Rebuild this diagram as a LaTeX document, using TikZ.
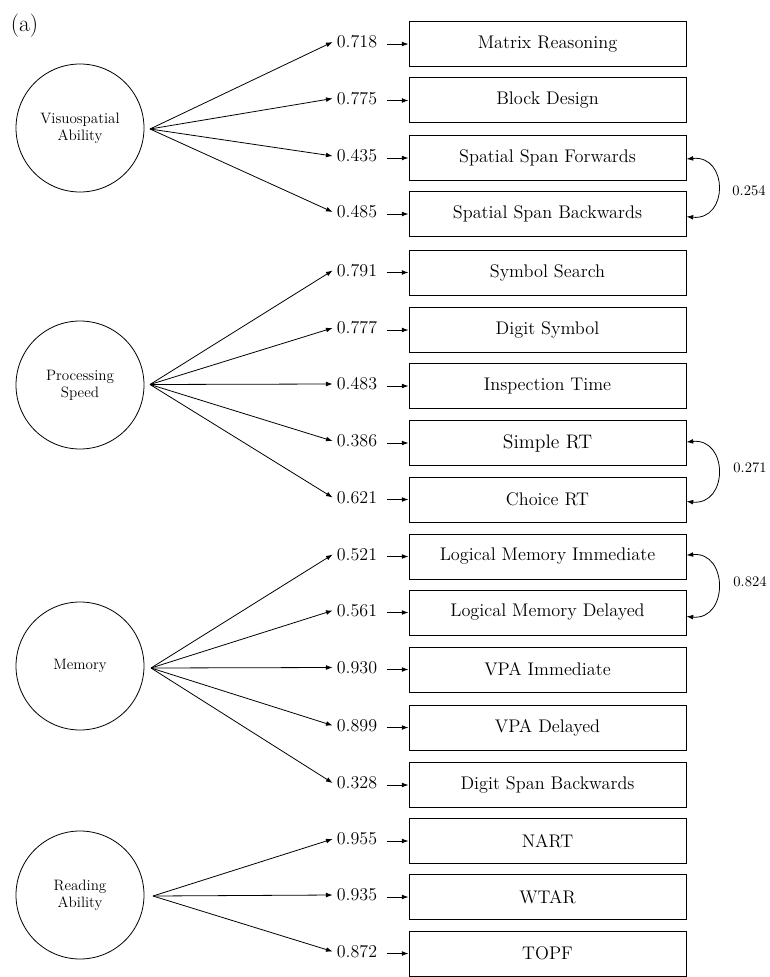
\documentclass[tikz,border=0pt]{standalone}
\usetikzlibrary{arrows.meta}
\begin{document}
\begin{tikzpicture}[x=0.75pt,y=-0.75pt,
  latent/.style={draw,circle,minimum size=96pt,inner sep=0pt,line width=0.6pt,align=center,font=\fontsize{11.3}{12.5}\selectfont},
  obs/.style={draw,rectangle,minimum width=207.75pt,minimum height=33.75pt,inner sep=0pt,line width=0.75pt,font=\fontsize{13.7}{16}\selectfont},
  load/.style={inner xsep=3pt,inner ysep=1pt,font=\fontsize{13.5}{16}\selectfont},
  corr/.style={font=\fontsize{10.9}{13}\selectfont},
  fan/.style={-{Latex[length=5pt,width=3.6pt]},line width=0.6pt},
  short/.style={-{Latex[length=5pt,width=3.6pt]},line width=0.6pt,shorten <=4pt},
  cov/.style={{Latex[length=5pt,width=3.6pt]}-{Latex[length=5pt,width=3.6pt]},line width=0.6pt}
]
\useasboundingbox (0,0) rectangle (769,977);

\node[font=\fontsize{17.5}{20}\selectfont] (tag) at (24.5,26) {(a)};

% latent variables
\node[latent] (vis) at (80,128) {Visuospatial\\Ability};
\node[latent] (proc) at (80,385) {Processing\\Speed};
\node[latent] (mem) at (80,666) {Memory};
\node[latent] (read) at (80,895) {Reading\\Ability};
\coordinate (va) at (150,129);
\coordinate (pa) at (150,384.5);
\coordinate (ma) at (151,668);
\coordinate (ra) at (153,896);

% observed variables
\node[obs] (b1) at (547.5,44) {Matrix Reasoning};
\node[obs] (b2) at (547.5,100.5) {Block Design};
\node[obs] (b3) at (547.5,158) {Spatial Span Forwards};
\node[obs] (b4) at (547.5,214) {Spatial Span Backwards};
\node[obs] (b5) at (547.5,272.5) {Symbol Search};
\node[obs] (b6) at (547.5,330) {Digit Symbol};
\node[obs] (b7) at (547.5,386) {Inspection Time};
\node[obs,font=\fontsize{14.7}{17}\selectfont] (b8) at (547.5,443) {Simple RT};
\node[obs] (b9) at (547.5,499.5) {Choice RT};
\node[obs] (b10) at (547.5,556.5) {Logical Memory Immediate};
\node[obs] (b11) at (547.5,612.5) {Logical Memory Delayed};
\node[obs] (b12) at (547.5,669.5) {VPA Immediate};
\node[obs] (b13) at (547.5,727.5) {VPA Delayed};
\node[obs] (b14) at (547.5,785) {Digit Span Backwards};
\node[obs] (b15) at (547.5,841) {NART};
\node[obs] (b16) at (547.5,897) {WTAR};
\node[obs] (b17) at (547.5,953.5) {TOPF};

% loadings
\node[load] (l1) at (357,42) {0.718};
\node[load] (l2) at (357,98.5) {0.775};
\node[load] (l3) at (357,156) {0.435};
\node[load] (l4) at (357,212) {0.485};
\node[load] (l5) at (357,270.5) {0.791};
\node[load] (l6) at (357,328) {0.777};
\node[load] (l7) at (357,384) {0.483};
\node[load] (l8) at (357,441) {0.386};
\node[load] (l9) at (357,497.5) {0.621};
\node[load] (l10) at (357,554.5) {0.521};
\node[load] (l11) at (357,610.5) {0.561};
\node[load] (l12) at (357,667.5) {0.930};
\node[load] (l13) at (357,725.5) {0.899};
\node[load] (l14) at (357,783) {0.328};
\node[load] (l15) at (357,839) {0.955};
\node[load] (l16) at (357,895) {0.935};
\node[load] (l17) at (357,951.5) {0.872};

% fan arrows
\foreach \i in {1,2,3,4} \draw[fan] (va) -- (l\i.west);
\foreach \i in {5,6,7,8,9} \draw[fan] (pa) -- (l\i.west);
\foreach \i in {10,11,12,13,14} \draw[fan] (ma) -- (l\i.west);
\foreach \i in {15,16,17} \draw[fan] (ra) -- (l\i.west);

% short arrows
\foreach \i in {1,...,17} \draw[short] (l\i.east |- b\i.west) -- (b\i.west);

% correlations
\draw[cov] ([yshift=-0.75pt]b3.east) .. controls +(42,-4) and +(42,4) .. ([yshift=-2pt]b4.east);
\draw[cov] ([yshift=0.75pt]b8.east) .. controls +(42,-4) and +(42,4) .. ([yshift=-1.5pt]b9.east);
\draw[cov] ([yshift=1pt]b10.east) .. controls +(42,-4) and +(42,4) .. ([yshift=-3pt]b11.east);
\node[corr] (c1) at (749,191) {0.254};
\node[corr] (c2) at (750,468) {0.271};
\node[corr] (c3) at (750,582) {0.824};
\end{tikzpicture}
\end{document}
